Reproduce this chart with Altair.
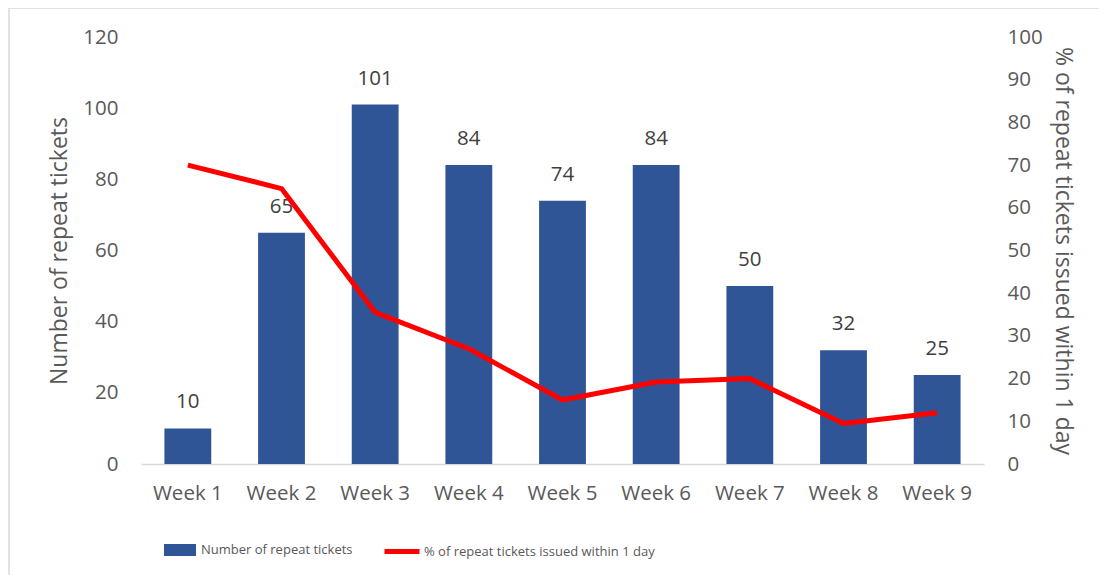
import altair as alt
import pandas as pd

weeks = ["Week 1", "Week 2", "Week 3", "Week 4", "Week 5", "Week 6", "Week 7", "Week 8", "Week 9"]
tickets = [10, 65, 101, 84, 74, 84, 50, 32, 25]
pct_1day = [70, 64.5, 35.5, 27, 15, 19.2, 20, 9.5, 12]

bar_name = "Number of repeat tickets"
line_name = "% of repeat tickets issued within 1 day"

df = pd.DataFrame({"week": weeks, "tickets": tickets, "pct": pct_1day})

FONT = "Open Sans"
LEG_FONT = "Open Sans"
GRAY = "#595959"
BLUE = "#2F5597"
RED = "#FF0000"

x_enc = alt.X(
    "week:N", sort=weeks,
    scale=alt.Scale(paddingInner=0.5, paddingOuter=0.25),
    axis=alt.Axis(title=None, labelAngle=0, ticks=False, labelPadding=19,
                  labelFontSize=20.5, labelFont=FONT, labelColor=GRAY,
                  domainColor="#D9D9D9", domainWidth=1.5),
)

y_left = alt.Y("tickets:Q", scale=alt.Scale(domain=[0, 120]),
               axis=alt.Axis(orient="left", values=list(range(0, 121, 20)), grid=False,
                             domain=False, ticks=False, labelPadding=23,
                             labelFontSize=20.5, labelFont=FONT, labelColor=GRAY,
                             title=bar_name, titleFont=FONT, titleFontSize=23,
                             titleFontWeight="normal", titleColor=GRAY,
                             titleAngle=-90, titleX=-82, titleY=213.5,
                             titleBaseline="middle", titleAlign="center"))

base = alt.Chart(df)

bars = base.transform_calculate(series=f"'{bar_name}'").mark_bar().encode(
    x=x_enc,
    y=y_left,
    fill=alt.Fill("series:N", scale=alt.Scale(domain=[bar_name], range=[BLUE]),
                  legend=alt.Legend(title=None, orient="none", legendX=22, legendY=496,
                                    symbolType="M-1,-0.375H1V0.375H-1Z", symbolSize=1024,
                                    labelFont=LEG_FONT, labelFontSize=13, labelColor=GRAY,
                                    labelOffset=4, padding=0, labelLimit=600)),
)

labels = base.mark_text(font=FONT, fontSize=20.5, color="#404040",
                        baseline="middle", dy=-26).encode(
    x=x_enc,
    y=y_left,
    text=alt.Text("tickets:Q"),
)

left = alt.layer(bars, labels).resolve_scale(y="shared")

line = base.transform_calculate(series=f"'{line_name}'").mark_line(
    strokeWidth=5, strokeJoin="round").encode(
    x=x_enc,
    y=alt.Y("pct:Q", scale=alt.Scale(domain=[0, 100]),
            axis=alt.Axis(orient="right", values=list(range(0, 101, 10)), grid=False,
                          domain=False, ticks=False, labelPadding=23,
                          labelFontSize=20.5, labelFont=FONT, labelColor=GRAY,
                          title=line_name, titleFont=FONT, titleFontSize=23,
                          titleFontWeight="normal", titleColor=GRAY,
                          titleAngle=90, titleX=78, titleY=213.5,
                          titleBaseline="middle", titleAlign="center")),
    stroke=alt.Stroke("series:N", scale=alt.Scale(domain=[line_name], range=[RED]),
                      legend=alt.Legend(title=None, orient="none", legendX=241, legendY=494.5,
                                        symbolType="stroke", symbolSize=1225,
                                        symbolStrokeWidth=5,
                                        labelFont=LEG_FONT, labelFontSize=13, labelColor=GRAY,
                                        labelOffset=2, padding=0, labelLimit=600)),
)

frame = alt.Chart(pd.DataFrame({"a": [0]})).mark_rect(
    fillOpacity=0, stroke="#D9D9D9", strokeWidth=1.5).encode(
    x=alt.value(-132), x2=alt.value(1100), y=alt.value(-29), y2=alt.value(700))

chart = alt.layer(left, line, frame).resolve_scale(
    y="independent", fill="independent", stroke="independent"
).properties(
    width=843, height=427,
    padding={"left": 133, "top": 29, "right": 115, "bottom": 111},
    autosize=alt.AutoSizeParams(type="none"),
    background="white",
).configure_view(stroke=None)

chart.save("out.html", embed_options={"renderer": "svg", "actions": False})
